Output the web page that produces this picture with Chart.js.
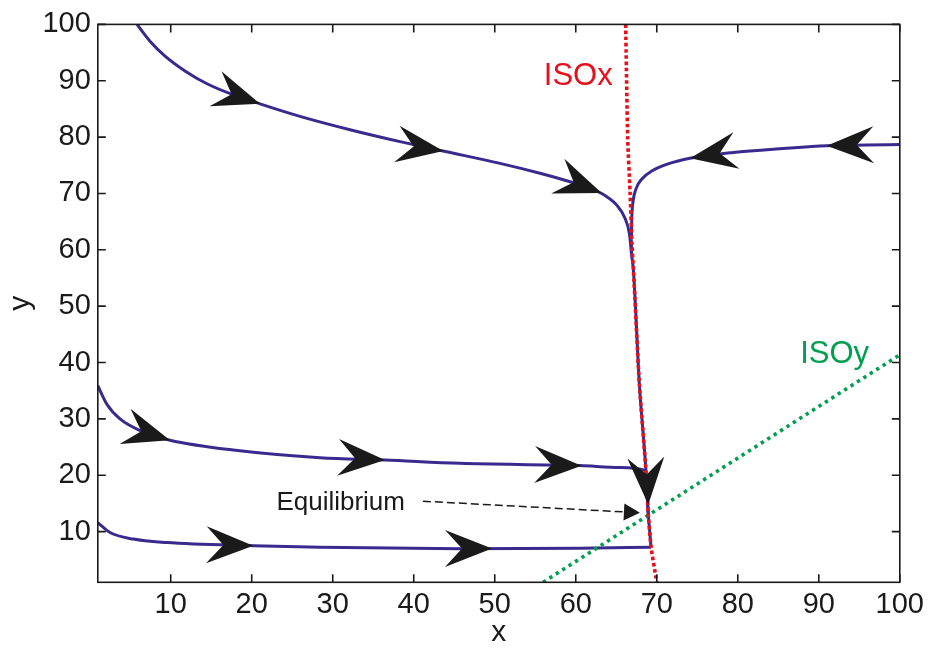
<!DOCTYPE html>
<html>
<head>
<meta charset="utf-8">
<script src="https://cdn.jsdelivr.net/npm/chart.js@4.4.1/dist/chart.umd.min.js"></script>
<style>
html,body{margin:0;padding:0;background:#ffffff;}
#wrap{width:937px;height:654px;}
</style>
</head>
<body>
<div id="wrap"><canvas id="c" width="937" height="654"></canvas></div>
<script>
// ---------- data ----------
const xTicks = [10, 20, 30, 40, 50, 60, 70, 80, 90, 100];
const yTicks = [10, 20, 30, 40, 50, 60, 70, 80, 90, 100];

// nullclines
const isoxX = [66.16, 66.41, 66.70, 66.94, 67.13, 67.84, 68.67, 68.95, 69.29, 69.90, 70.03];
const isoxY = [100, 79.81, 70.34, 61.03, 56.12, 36.46, 20.66, 13.10, 7.32, 1.88, 1.0];
const isoyX = [55.96, 100];
const isoyY = [1.0, 41.37];

// trajectories
const trajAX = [5.84, 7.44, 9.30, 11.76, 14.48, 17.44, 21.02, 25.96, 32.13, 38.30, 43.61, 50.65, 55.59, 59.29, 61.76, 63.61, 65.09, 66.08, 66.63, 66.88, 67.13, 67.84, 68.67, 68.95];
const trajAY = [100, 97.02, 94.38, 91.75, 89.47, 87.66, 85.90, 83.68, 81.31, 79.20, 77.53, 75.34, 73.58, 72.08, 70.94, 69.63, 67.88, 65.60, 62.79, 59.28, 56.12, 36.46, 20.66, 13.10];
const trajBX = [100, 95.92, 90.98, 85.62, 79.45, 74.11, 71.40, 69.43, 68.19, 67.45, 67.07, 66.92, 66.86, 66.88];
const trajBY = [78.71, 78.58, 78.46, 77.97, 77.27, 76.25, 75.25, 74.02, 72.62, 70.86, 68.58, 65.77, 61.91, 59.28];
const trajCX = [1.0, 2.10, 3.74, 6.62, 9.91, 17.73, 28.43, 36.45, 45.71, 60.52, 65.46, 68.55, 68.95];
const trajCY = [35.88, 32.65, 30.00, 27.68, 26.22, 24.47, 23.12, 22.71, 22.12, 21.71, 21.36, 20.84, 13.10];
const trajDX = [1.0, 2.51, 5.38, 9.50, 20.20, 28.43, 45.71, 60.52, 69.29];
const trajDY = [11.58, 9.83, 8.67, 8.07, 7.50, 7.20, 6.97, 7.06, 7.23];
const trajDTailX = [69.29, 68.95];
const trajDTailY = [7.23, 13.10];

// arrowheads: tip point and a point behind it on the same trajectory
const arrowTipX = [21.02, 43.65, 63.20, 74.11, 90.98, 9.91, 36.45, 60.72, 20.20, 49.66, 68.95];
const arrowTipY = [85.90, 77.53, 70.10, 76.25, 78.46, 26.22, 22.71, 21.70, 7.50, 6.99, 14.81];
const arrowRefX = [17.44, 40.16, 60.00, 77.80, 94.68, 6.62, 32.75, 58.06, 17.32, 46.33, 68.76];
const arrowRefY = [87.66, 78.29, 71.86, 77.13, 78.58, 27.68, 23.00, 21.80, 7.58, 6.99, 20.08];

// annotations
const eqLabel = 'Equilibrium';
const eqTextX = 38.92, eqTextY = 13.80;
const eqLineStart = [41.13, 15.39];
const eqLineTip = [67.92, 13.34];
const isoxLabel = 'ISOx', isoxLabelX = 64.56, isoxLabelY = 89.29;
const isoyLabel = 'ISOy', isoyLabelX = 87.7, isoyLabelY = 39.97;

// ---------- styles ----------
const FONT = '"Liberation Sans", Arial, Helvetica, sans-serif';
const PURPLE = '#3b2a8e';
const RED = '#e5121c';
const GREEN = '#00a050';
const INK = '#1a1a1a';

const pts = (xs, ys) => xs.map((v, i) => ({x: v, y: ys[i]}));

function traj(label, xs, ys, mode) {
  return {
    label, data: pts(xs, ys), showLine: true, borderColor: PURPLE, borderWidth: 3,
    pointRadius: 0, cubicInterpolationMode: mode || 'monotone', tension: 0, fill: false
  };
}

const datasets = [
  {label: 'ISOx', data: pts(isoxX, isoxY), showLine: true, borderColor: RED, borderWidth: 3.6,
   borderDash: [3.6, 2.6], borderCapStyle: 'butt', pointRadius: 0, tension: 0.2, fill: false},
  {label: 'ISOy', data: pts(isoyX, isoyY), showLine: true, borderColor: GREEN, borderWidth: 3.6,
   borderDash: [3.4, 4.2], borderCapStyle: 'butt', pointRadius: 0, tension: 0, fill: false},
  traj('A', trajAX, trajAY),
  traj('B', trajBX, trajBY),
  traj('C', trajCX, trajCY),
  traj('D', trajDX, trajDY),
  traj('Dtail', trajDTailX, trajDTailY, 'default')
];

function head(ctx, tx, ty, ang, len, hw, notch) {
  const c = Math.cos(ang), s = Math.sin(ang);
  const P = (u, v) => [tx + u * c - v * s, ty + u * s + v * c];
  ctx.beginPath();
  ctx.moveTo(...P(0, 0));
  ctx.lineTo(...P(-len, hw));
  ctx.lineTo(...P(-notch, 0));
  ctx.lineTo(...P(-len, -hw));
  ctx.closePath();
  ctx.fill();
}

const overlay = {
  id: 'overlay',
  afterDatasetsDraw(chart) {
    const {ctx, scales: {x, y}} = chart;
    ctx.save();
    ctx.fillStyle = INK;
    arrowTipX.forEach((v, i) => {
      const tx = x.getPixelForValue(v), ty = y.getPixelForValue(arrowTipY[i]);
      const rx = x.getPixelForValue(arrowRefX[i]), ry = y.getPixelForValue(arrowRefY[i]);
      head(ctx, tx, ty, Math.atan2(ty - ry, tx - rx), 47, 18.5, 30);
    });
    const sx = x.getPixelForValue(eqLineStart[0]), sy = y.getPixelForValue(eqLineStart[1]);
    const ex = x.getPixelForValue(eqLineTip[0]), ey = y.getPixelForValue(eqLineTip[1]);
    const ang = Math.atan2(ey - sy, ex - sx);
    ctx.strokeStyle = INK; ctx.lineWidth = 1.5; ctx.setLineDash([8, 4]);
    ctx.beginPath(); ctx.moveTo(sx, sy);
    ctx.lineTo(ex - 14 * Math.cos(ang), ey - 14 * Math.sin(ang)); ctx.stroke();
    ctx.setLineDash([]);
    head(ctx, ex, ey, ang, 16, 8.5, 16);
    ctx.textBaseline = 'alphabetic';
    ctx.font = '26px ' + FONT; ctx.fillStyle = INK; ctx.textAlign = 'right';
    ctx.fillText(eqLabel, x.getPixelForValue(eqTextX), y.getPixelForValue(eqTextY));
    ctx.font = '31px ' + FONT; ctx.fillStyle = RED; ctx.textAlign = 'right';
    ctx.fillText(isoxLabel, x.getPixelForValue(isoxLabelX), y.getPixelForValue(isoxLabelY));
    ctx.fillStyle = GREEN; ctx.textAlign = 'left';
    ctx.fillText(isoyLabel, x.getPixelForValue(isoyLabelX), y.getPixelForValue(isoyLabelY));
    ctx.restore();
  },
  afterDraw(chart) {
    const {ctx, chartArea: a, scales: {x, y}} = chart;
    ctx.save();
    ctx.strokeStyle = INK; ctx.lineWidth = 1.6;
    ctx.strokeRect(a.left, a.top, a.right - a.left, a.bottom - a.top);
    ctx.beginPath();
    const L = 8;
    xTicks.forEach(v => {
      const px = x.getPixelForValue(v);
      ctx.moveTo(px, a.bottom); ctx.lineTo(px, a.bottom - L);
      ctx.moveTo(px, a.top); ctx.lineTo(px, a.top + L);
    });
    yTicks.forEach(v => {
      const py = y.getPixelForValue(v);
      ctx.moveTo(a.left, py); ctx.lineTo(a.left + L, py);
      ctx.moveTo(a.right, py); ctx.lineTo(a.right - L, py);
    });
    ctx.stroke();
    ctx.restore();
  }
};

new Chart(document.getElementById('c'), {
  type: 'scatter',
  data: {datasets},
  plugins: [overlay],
  options: {
    responsive: false,
    animation: false,
    devicePixelRatio: 1,
    layout: {padding: {top: 18, right: 37.2, bottom: 0, left: 0}},
    plugins: {legend: {display: false}, tooltip: {enabled: false}},
    scales: {
      x: {
        type: 'linear', min: 1, max: 100,
        afterBuildTicks: s => { s.ticks = xTicks.map(v => ({value: v})); },
        afterFit: s => { s.height = 71.7; },
        grid: {display: false, drawTicks: false},
        border: {display: false},
        ticks: {font: {size: 29, family: FONT}, color: INK, padding: 5, maxRotation: 0, autoSkip: false},
        title: {display: true, text: 'x', font: {size: 30, family: FONT}, color: INK, padding: {top: 0, bottom: 3}}
      },
      y: {
        type: 'linear', min: 1, max: 100,
        afterBuildTicks: s => { s.ticks = yTicks.map(v => ({value: v})); },
        afterFit: s => { s.width = 97.8; },
        grid: {display: false, drawTicks: false},
        border: {display: false},
        ticks: {font: {size: 29, family: FONT}, color: INK, padding: 7, autoSkip: false},
        title: {display: true, text: 'y', font: {size: 30, family: FONT}, color: INK, padding: {top: 3, bottom: 0}}
      }
    }
  }
});
</script>
</body>
</html>
